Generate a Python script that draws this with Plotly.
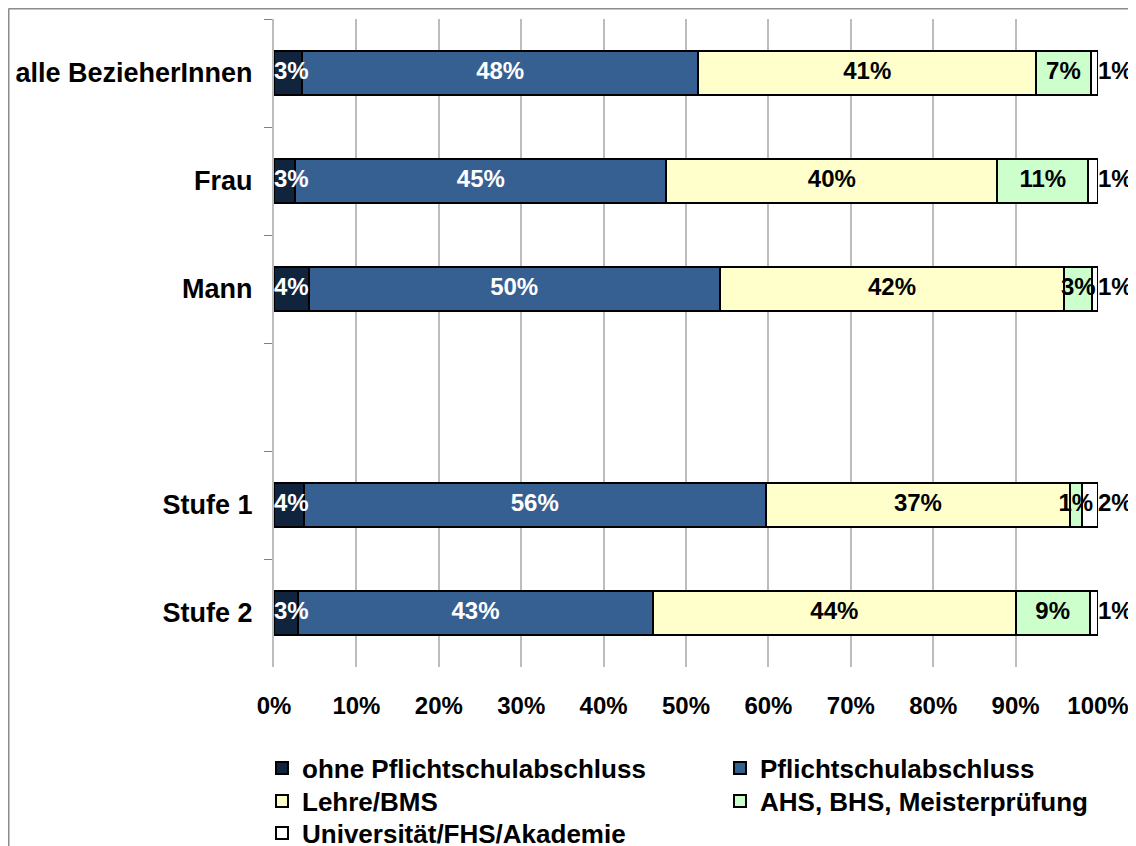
import plotly.graph_objects as go

categories = ["alle BezieherInnen", "Frau", "Mann", " ", "Stufe 1", "Stufe 2"]
series_names = [
    "ohne Pflichtschulabschluss",
    "Pflichtschulabschluss",
    "Lehre/BMS",
    "AHS, BHS, Meisterprüfung",
    "Universität/FHS/Akademie",
]
ohne = [3.4, 2.6, 4.2, None, 3.6, 2.9]
pflicht = [48.1, 45.0, 49.9, None, 56.1, 43.1]
lehre = [41.0, 40.2, 41.8, None, 36.9, 44.0]
ahs = [6.6, 11.0, 3.4, None, 1.4, 9.0]
uni = [0.9, 1.2, 0.7, None, 2.0, 1.0]
x_ticks = [0, 10, 20, 30, 40, 50, 60, 70, 80, 90, 100]
x_tick_labels = ["0%", "10%", "20%", "30%", "40%", "50%",
                 "60%", "70%", "80%", "90%", "100%"]

series_values = [ohne, pflicht, lehre, ahs, uni]
colors = ["#10243E", "#366092", "#FFFFCC", "#CCFFCC", "#FFFFFF"]
text_colors = ["white", "white", "black", "black", "black"]
legend_ids = ["legend", "legend2", "legend3", "legend4", "legend5"]

FONT = "Liberation Sans, Arial, sans-serif"

fig = go.Figure()

# bars
for i, (name, vals) in enumerate(zip(series_names, series_values)):
    fig.add_trace(go.Bar(
        name=name,
        y=categories,
        x=vals,
        orientation="h",
        marker=dict(color=colors[i], line=dict(color="black", width=2)),
        legend=legend_ids[i],
        hoverinfo="skip",
    ))

# data labels drawn on top of all bars
n_series = len(series_values)
starts = [0.0] * len(categories)
for i, vals in enumerate(series_values):
    xs, ys, txt = [], [], []
    first = i == 0
    last = i == n_series - 1
    for j, v in enumerate(vals):
        if v is None:
            continue
        if first:
            pos = starts[j]                 # label starts at the bar's left end
        elif last:
            pos = round(starts[j] + v, 6)   # label just after the bar's right end
        else:
            pos = starts[j] + v / 2.0       # centred in the segment
        xs.append(pos)
        ys.append(categories[j])
        txt.append(f"{v:.0f}%")
        starts[j] += v
    fig.add_trace(go.Scatter(
        x=xs, y=ys, text=txt, mode="text",
        textposition="middle right" if (first or last) else "middle center",
        textfont=dict(family=FONT, size=24, color=text_colors[i], weight="bold"),
        cliponaxis=False, showlegend=False, hoverinfo="skip",
    ))

W, H = 1128, 838          # page has an 8px body margin
L, R, T, B = 266, 38, 11, 179
pw, ph = W - L - R, H - T - B


def px_x(p):
    return (p - L) / pw


def px_y(p):
    return (H - B - p) / ph


legend_font = dict(family=FONT, size=26, color="black", weight="bold")
legend_pos = [(254, 760), (712, 760), (254, 793), (712, 793), (254, 825)]

layout_legends = {}
for lid, (lx, ly) in zip(legend_ids, legend_pos):
    layout_legends[lid] = dict(
        orientation="v",
        x=px_x(lx), xanchor="left",
        y=px_y(ly), yanchor="middle",
        font=legend_font,
        bgcolor="rgba(0,0,0,0)",
    )

fig.update_layout(
    width=W,
    height=H,
    barmode="stack",
    bargap=0.59,
    plot_bgcolor="white",
    paper_bgcolor="white",
    margin=dict(l=L, r=R, t=T, b=B, pad=0, autoexpand=False),
    font=dict(family=FONT, color="black"),
    xaxis=dict(
        range=[0, 100],
        tickmode="array",
        tickvals=x_ticks,
        ticktext=x_tick_labels,
        showgrid=True,
        gridcolor="#BDBDBD",
        gridwidth=2,
        zeroline=False,
        showline=False,
        ticks="",
        ticklabelstandoff=22,
        tickfont=dict(family=FONT, size=24, color="black", weight="bold"),
        fixedrange=True,
    ),
    yaxis=dict(
        type="category",
        categoryorder="array",
        categoryarray=categories,
        autorange="reversed",
        showline=True,
        linecolor="#BDBDBD",
        linewidth=2,
        showgrid=False,
        zeroline=False,
        ticks="outside",
        tickson="boundaries",
        ticklen=8,
        tickcolor="#808080",
        tickwidth=1,
        ticklabelstandoff=14,
        tickfont=dict(family=FONT, size=27, color="black", weight="bold"),
        fixedrange=True,
    ),
    showlegend=True,
    **layout_legends,
)

# outer chart frame (top and left edges visible in the reference)
fig.add_shape(type="line", xref="paper", yref="paper",
              x0=px_x(0.5), x1=px_x(1140), y0=px_y(0.5), y1=px_y(0.5),
              line=dict(color="#8C8C8C", width=2), layer="above")
fig.add_shape(type="line", xref="paper", yref="paper",
              x0=px_x(0.5), x1=px_x(0.5), y0=px_y(0.5), y1=px_y(850),
              line=dict(color="#8C8C8C", width=2), layer="above")

fig.write_html("out.html")
